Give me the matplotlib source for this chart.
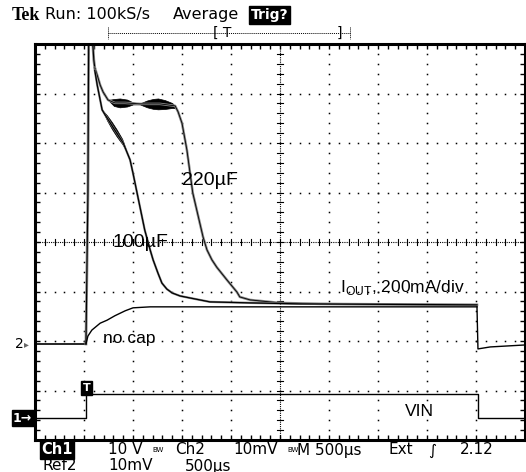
import numpy as np
import matplotlib.pyplot as plt
from matplotlib.lines import Line2D

# screen is 10 x 8 divisions; all trace values in divisions
base_t = [0.0, 1.04]
base_y = [1.94, 1.94]

spike_t = [1.04, 1.08, 1.10, 1.18, 1.20, 1.22]
spike_y = [1.94, 5.0, 9.0, 8.0, 7.68, 7.52]

nocap_t = [1.04, 1.08, 1.16, 1.33, 1.47, 1.63, 1.84, 2.00, 2.35, 5.0, 9.02]
nocap_y = [1.94, 2.10, 2.22, 2.36, 2.42, 2.51, 2.61, 2.67, 2.69, 2.69, 2.69]

c220_t = [1.22, 1.27, 1.33, 1.39, 1.49, 1.63, 1.84, 2.14, 2.55, 2.86, 2.92, 3.00,
          3.10, 3.22, 3.43, 3.51, 3.61, 3.71, 3.92, 4.12, 4.18, 4.39, 5.00, 5.82, 9.02]
c220_y = [7.52, 7.37, 7.17, 7.03, 6.87, 6.81, 6.81, 6.79, 6.79, 6.75, 6.63, 6.40,
          5.86, 4.99, 4.10, 3.84, 3.64, 3.49, 3.23, 2.99, 2.89, 2.83, 2.77, 2.75, 2.73]
band220_t = [1.49, 1.61, 1.73, 1.88, 2.00, 2.14, 2.29, 2.41, 2.51, 2.65, 2.80, 2.88]
band220_h = [0.0, 0.07, 0.09, 0.07, 0.02, 0.01, 0.07, 0.10, 0.11, 0.09, 0.05, 0.01]

c100_t = [1.22, 1.27, 1.33, 1.37, 1.43, 1.59, 1.80, 1.94, 2.00, 2.10, 2.24, 2.35,
          2.41, 2.51, 2.59, 2.69, 2.80, 2.96, 3.16, 3.57, 4.39, 5.41, 9.02]
c100_y = [7.47, 7.17, 6.87, 6.67, 6.57, 6.32, 6.00, 5.66, 5.39, 4.91, 4.24, 3.84,
          3.64, 3.37, 3.17, 3.05, 2.97, 2.91, 2.87, 2.79, 2.77, 2.75, 2.73]
band100_t = [1.37, 1.47, 1.57, 1.67, 1.78, 1.86]
band100_h = [0.0, 0.05, 0.07, 0.07, 0.05, 0.0]

tail_t = [9.02, 9.04, 9.29, 10.0]
tail_y = [2.69, 1.84, 1.88, 1.92]

vin_t = [0.0, 1.04, 1.04, 9.04, 9.04, 10.0]
vin_y = [0.44, 0.44, 0.93, 0.93, 0.44, 0.44]

W, H = 526, 472
fig = plt.figure(figsize=(W / 100, H / 100), dpi=100)
ax = fig.add_axes([35 / W, 32 / H, 490 / W, 396 / H])
ax.set_xlim(0, 10)
ax.set_ylim(0, 8)

def fx(px):
    return px / W

def fy(py):
    return 1 - py / H

# frame and edge ticks
for s in ax.spines.values():
    s.set_linewidth(2.2)
ax.set_xticks(np.arange(0, 10.01, 0.2))
ax.set_yticks(np.arange(0, 8.01, 0.2))
ax.tick_params(direction='in', length=3.5, width=1, top=True, right=True,
               labelbottom=False, labelleft=False)

# graticule dots
dots = np.arange(0, 8.01, 0.2)
for i in range(1, 10):
    if i != 5:
        ax.plot(np.full_like(dots, i), dots, 's', ms=1.1, color='k', mew=0)
dots = np.arange(0, 10.01, 0.2)
for j in range(1, 8):
    if j != 4:
        ax.plot(dots, np.full_like(dots, j), 's', ms=1.1, color='k', mew=0)
# center cross
ax.axvline(5, color='k', lw=0.8, ls=(0, (1, 1)))
ax.axhline(4, color='k', lw=0.8, ls=(0, (1, 1)))
for v in np.arange(0, 10.01, 0.2):
    ax.plot([v, v], [3.93, 4.07], color='k', lw=0.8)
for v in np.arange(0, 8.01, 0.2):
    ax.plot([4.93, 5.07], [v, v], color='k', lw=0.8)

# traces
ax.plot(vin_t, vin_y, color='k', lw=1.0)
ax.plot(base_t, base_y, color='k', lw=1.2)
ax.plot(spike_t, spike_y, color='#888888', lw=2.0)
ax.plot(spike_t, spike_y, color='k', lw=0.8)
ax.plot(c220_t, c220_y, color='#888888', lw=1.8)
ax.plot(c220_t, c220_y, color='k', lw=0.6)
ax.plot(c100_t, c100_y, color='#888888', lw=1.6)
ax.plot(c100_t, c100_y, color='k', lw=0.9)
ax.plot(nocap_t, nocap_y, color='k', lw=1.0)
ax.plot(tail_t, tail_y, color='k', lw=1.0)

mid220 = np.interp(band220_t, c220_t, c220_y)
ax.fill_between(band220_t, mid220 - np.array(band220_h), mid220 + np.array(band220_h),
                color='k', lw=0.5)
mid100 = np.interp(band100_t, c100_t, c100_y)
ax.fill_between(band100_t, mid100 - np.array(band100_h), mid100 + np.array(band100_h),
                color='k', lw=0.5)

# labels inside the screen
lab = dict(family='Liberation Sans', color='k', va='center', ha='left')
ax.text(3.0, 5.25, '220\u00b5F', fontsize=14, **lab)
ax.text(1.59, 3.98, '100\u00b5F', fontsize=14, **lab)
ax.text(6.22, 3.09, 'I$_{\\mathregular{OUT}}$, 200mA/div', fontsize=12.5, **lab)
ax.text(1.39, 2.06, 'no cap', fontsize=12.5, **lab)
ax.text(7.55, 0.57, 'VIN', fontsize=12.5, **lab)
ax.text(1.06, 1.05, 'T', fontsize=8, color='w', ha='center', va='center',
        fontweight='bold', bbox=dict(boxstyle='square,pad=0.15', fc='k', ec='k'))

# channel markers
fig.text(fx(15), fy(344), '2', fontsize=10, va='center', ha='left')
fig.text(fx(24), fy(344), '\u25b8', fontsize=7, va='center', ha='left', color='#666666')
fig.text(fx(13), fy(418), '1\u2192', fontsize=9, va='center', ha='left', color='w',
         fontweight='bold', bbox=dict(boxstyle='square,pad=0.1', fc='k', ec='k'))

# header
fig.text(fx(12), fy(15), 'Tek', family='Liberation Serif', fontweight='bold',
         fontsize=13, va='center')
fig.text(fx(45), fy(15), 'Run: 100kS/s', fontsize=11.5, va='center')
fig.text(fx(173), fy(15), 'Average', fontsize=11.5, va='center')
fig.text(fx(251), fy(15), 'Trig?', fontsize=10, va='center', color='w', fontweight='bold',
         bbox=dict(boxstyle='square,pad=0.12', fc='k', ec='k'))
fig.add_artist(Line2D([fx(108), fx(350)], [fy(33), fy(33)], color='k', lw=0.7,
                      ls=(0, (1, 1))))
for px in (108, 350):
    fig.add_artist(Line2D([fx(px), fx(px)], [fy(27), fy(39)], color='k', lw=0.7,
                          ls=(0, (1, 1))))
fig.text(fx(213), fy(33), '[ T', fontsize=10, va='center')
fig.text(fx(337), fy(33), ']', fontsize=10, va='center')

# footer
fig.text(fx(41), fy(450), 'Ch1', fontsize=10.5, va='center', color='w', fontweight='bold',
         bbox=dict(boxstyle='square,pad=0.1', fc='k', ec='k'))
row1 = [(108, '10 V'), (152, 'BW'), (175, 'Ch2'), (233, '10mV'), (287, 'BW'),
        (297, 'M 500\u00b5s'), (388, 'Ext'), (428, '\u222b'), (460, '2.12')]
for px, s in row1:
    fs = 5 if s == 'BW' else 11
    fig.text(fx(px), fy(450), s, fontsize=fs, va='center')
row2 = [(43, 'Ref2'), (108, '10mV'), (185, '500\u00b5s')]
for px, s in row2:
    fig.text(fx(px), fy(466), s, fontsize=11, va='center')

fig.savefig('out.png', dpi=100)
